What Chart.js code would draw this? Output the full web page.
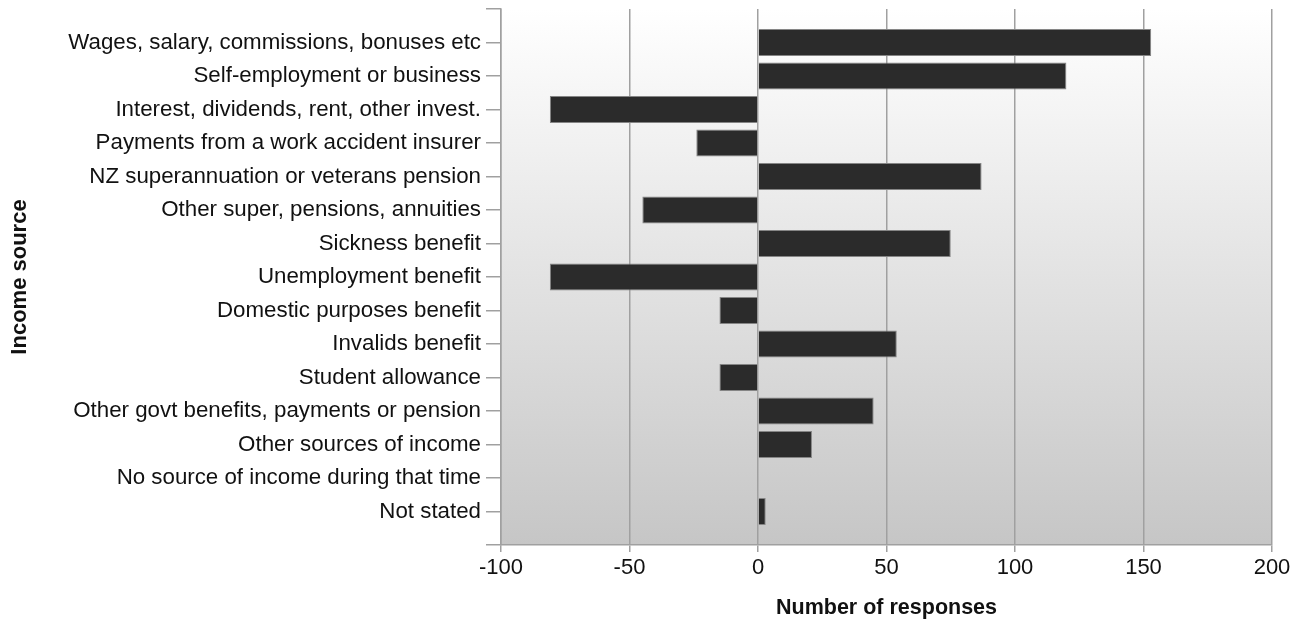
<!DOCTYPE html>
<html>
<head>
<meta charset="utf-8">
<script src="https://cdn.jsdelivr.net/npm/chart.js@4"></script>
<style>
html,body{margin:0;padding:0;background:#fff;}
#wrap{width:1307px;height:619px;position:relative;}
</style>
</head>
<body>
<div id="wrap"><canvas id="c" width="1307" height="619"></canvas></div>
<script>
const categories = [
  "Wages, salary, commissions, bonuses etc",
  "Self-employment or business",
  "Interest, dividends, rent, other invest.",
  "Payments from a work accident insurer",
  "NZ superannuation or veterans pension",
  "Other super, pensions, annuities",
  "Sickness benefit",
  "Unemployment benefit",
  "Domestic purposes benefit",
  "Invalids benefit",
  "Student allowance",
  "Other govt benefits, payments or pension",
  "Other sources of income",
  "No source of income during that time",
  "Not stated"
];
const responses = [153, 120, -81, -24, 87, -45, 75, -81, -15, 54, -15, 45, 21, 0, 3];
const xTicks = [-100, -50, 0, 50, 100, 150, 200];
const xTitle = "Number of responses";
const yTitle = "Income source";

// pad with empty slots top and bottom so labels sit half a slot in from the edges
const labels = [""].concat(categories, [""]);
const values = [null].concat(responses, [null]);

const bgPlugin = {
  id: 'bg',
  beforeDraw(chart) {
    const {ctx, chartArea: a} = chart;
    const g = ctx.createLinearGradient(0, a.top, 0, a.bottom);
    g.addColorStop(0, '#ffffff');
    g.addColorStop(1, '#c6c6c6');
    ctx.save();
    ctx.fillStyle = g;
    ctx.fillRect(a.left, a.top, a.right - a.left, a.bottom - a.top);
    ctx.restore();
  }
};

const FONT = "'Liberation Sans', Arial, sans-serif";
new Chart(document.getElementById('c'), {
  type: 'bar',
  data: {
    labels: labels,
    datasets: [{
      data: values,
      backgroundColor: '#2b2b2b',
      borderColor: '#858585',
      borderWidth: 1,
      barPercentage: 0.8,
      categoryPercentage: 1.0
    }]
  },
  plugins: [bgPlugin],
  options: {
    indexAxis: 'y',
    responsive: false,
    animation: false,
    layout: { padding: { top: 9, right: 35, bottom: 0, left: 0 } },
    plugins: { legend: { display: false }, tooltip: { enabled: false } },
    scales: {
      x: {
        type: 'linear',
        min: xTicks[0],
        max: xTicks[xTicks.length - 1],
        afterBuildTicks(s) { s.ticks = xTicks.map(v => ({ value: v })); },
        afterFit(s) { s.height = 74; s.paddingLeft = 0; s.paddingRight = 0; },
        grid: { color: '#a0a0a0', lineWidth: 1.5, tickLength: 7, drawTicks: true },
        border: { color: '#a0a0a0', width: 1.5 },
        ticks: { color: '#111', font: { family: FONT, size: 22 }, padding: 3 },
        title: { display: true, text: xTitle, color: '#111', font: { family: FONT, size: 21.5, weight: 'bold', lineHeight: 1 }, padding: { top: 0, bottom: 0 } }
      },
      y: {
        type: 'category',
        offset: false,
        afterFit(s) { s.width = 501; s.paddingTop = 0; s.paddingBottom = 0; },
        grid: { offset: false, drawOnChartArea: false, drawTicks: true, tickLength: 15, color: '#a0a0a0', lineWidth: 1.5 },
        border: { color: '#a0a0a0', width: 1.5 },
        ticks: { color: '#111', font: { family: FONT, size: 22.3 }, padding: 5, autoSkip: false },
        title: { display: true, text: yTitle, color: '#111', font: { family: FONT, size: 22, weight: 'bold' }, padding: { top: 7, bottom: 0 } }
      }
    }
  }
});
</script>
</body>
</html>
